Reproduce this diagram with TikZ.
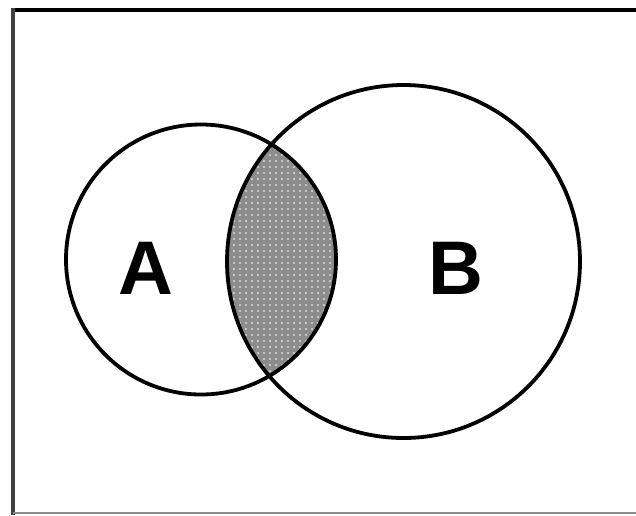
\documentclass[tikz,border=0pt]{standalone}
\usepackage{fontspec}
\setmainfont{Liberation Sans}
\usetikzlibrary{patterns.meta}
\begin{document}
\begin{tikzpicture}[x=1pt,y=-1pt,
  ring/.style={draw=black,line width=3.8pt},
  lbl/.style={font=\fontsize{76}{76}\selectfont\bfseries,inner sep=0pt}]
\useasboundingbox (0,0) rectangle (636,515);
\fill[white] (0,0) rectangle (636,515);
% frame
\draw[black,line width=4pt] (11,10) -- (636,10);
\draw[black!75,line width=4pt] (13,8) -- (13,515);
\draw[black!45,line width=2pt] (13,513) -- (636,513);
% intersection
\coordinate (ca) at (201,259.5);
\coordinate (cb) at (403.5,261.5);
\begin{scope}
  \clip (ca) circle (135);
  \fill[black!45] (cb) circle (176.5);
  \fill[pattern={Dots[distance=6pt,radius=1.1pt]},pattern color=white!85!black] (cb) circle (176.5);
\end{scope}
\draw[ring] (ca) circle (135);
\draw[ring] (cb) circle (176.5);
\node[lbl] (a) at (146,268) {A};
\node[lbl] (b) at (456,268) {B};
\end{tikzpicture}
\end{document}
